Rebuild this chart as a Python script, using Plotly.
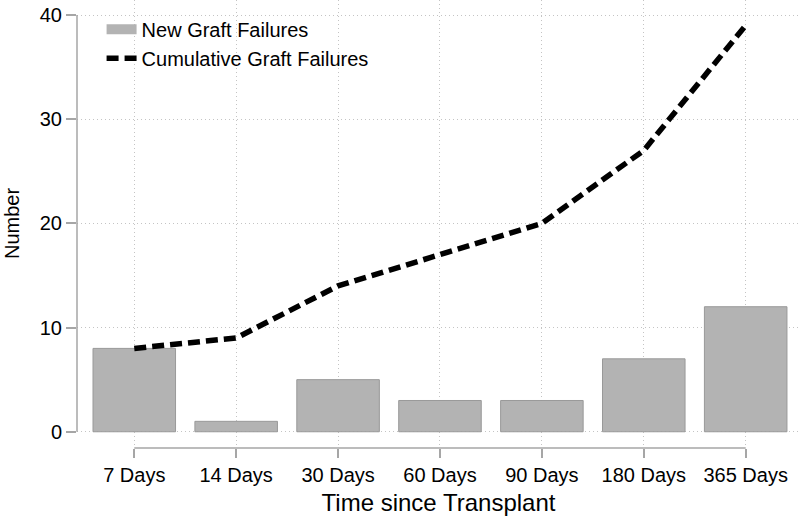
import plotly.graph_objects as go

categories = ["7 Days", "14 Days", "30 Days", "60 Days", "90 Days", "180 Days", "365 Days"]
new_failures = [8, 1, 5, 3, 3, 7, 12]
cumulative_failures = [8, 9, 14, 17, 20, 27, 39]
y_ticks = [0, 10, 20, 30, 40]

AXIS_GRAY = "#a6a6a6"
GRID_GRAY = "#c4c4c4"
FONT = "Liberation Sans, Arial, Helvetica, sans-serif"

fig = go.Figure()
fig.add_trace(go.Bar(
    x=categories, y=new_failures, name="New Graft Failures",
    marker=dict(color="#b3b3b3", line=dict(color="#999999", width=1)),
    width=0.81, showlegend=False,
))
# legend proxy for the bar series (wide swatch like the reference)
fig.add_trace(go.Scatter(
    x=[None], y=[None], mode="lines", name="New Graft Failures",
    line=dict(color="#b3b3b3", width=16), showlegend=True,
))
fig.add_trace(go.Scatter(
    x=categories, y=cumulative_failures, mode="lines", name="Cumulative Graft Failures",
    line=dict(color="black", width=5.5, dash="12px,6px"),
))

fig.update_layout(
    width=800, height=516,
    margin=dict(l=77, r=0, t=0, b=68),
    plot_bgcolor="white", paper_bgcolor="white",
    font=dict(family=FONT, size=20, color="black"),
    showlegend=True,
    legend=dict(x=0.034, y=0.978, xanchor="left", yanchor="top",
                bgcolor="rgba(0,0,0,0)", font=dict(size=20),
                tracegroupgap=0, itemwidth=30),
    xaxis=dict(
        type="category", categoryorder="array", categoryarray=categories,
        range=[-0.562, 6.533], automargin=False,
        showgrid=True, gridcolor=GRID_GRAY, griddash="1px,3px", gridwidth=1,
        showline=False, zeroline=False,
        ticks="outside", ticklen=9, tickcolor=AXIS_GRAY, tickwidth=1.5,
        title=dict(text="Time since Transplant", standoff=19),
    ),
    yaxis=dict(
        range=[-1.56, 41.44], tickvals=y_ticks, automargin=False,
        showgrid=True, gridcolor=GRID_GRAY, griddash="1px,3px", gridwidth=1,
        showline=False, zeroline=False,
        ticks="outside", ticklen=10, tickcolor=AXIS_GRAY, tickwidth=1.5,
        ticklabeloverflow="allow",
    ),
    annotations=[
        dict(text="Number", textangle=-90, showarrow=False,
             xref="paper", x=-0.089, xanchor="center",
             yref="y", y=(y_ticks[0] + y_ticks[-1]) / 2, yanchor="middle",
             font=dict(size=20, family=FONT, color="black")),
    ],
    shapes=[
        dict(type="line", xref="paper", yref="y", x0=0, x1=0,
             y0=y_ticks[0], y1=y_ticks[-1], line=dict(color=AXIS_GRAY, width=1.5)),
        dict(type="line", xref="x", yref="paper", x0=0, x1=len(categories) - 1,
             y0=0, y1=0, line=dict(color=AXIS_GRAY, width=1.5)),
    ],
)

fig.write_html("out.html", config={"displayModeBar": False},
               post_script="document.body.style.margin='0';")
